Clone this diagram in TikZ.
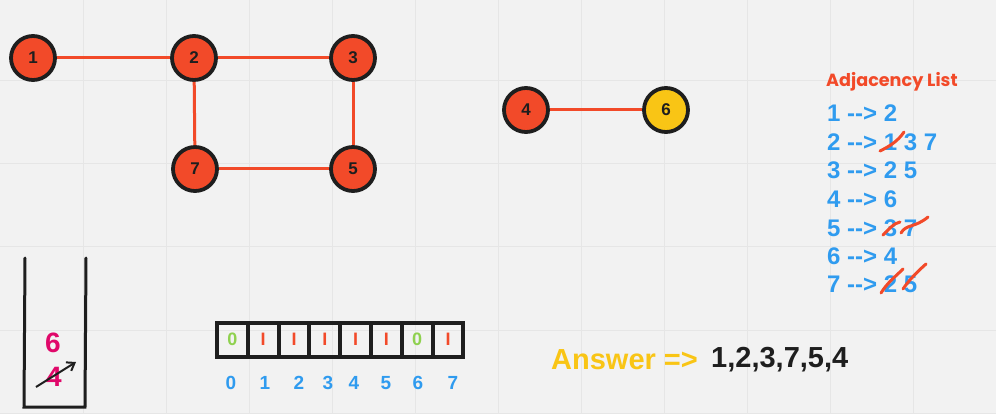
\documentclass[tikz,border=0pt]{standalone}
\usepackage{fontspec}
\setmainfont[Ligatures=NoCommon]{Liberation Sans}
\newfontfamily\titlefont{Poppins}
\usetikzlibrary{arrows.meta}
\definecolor{bg}{HTML}{F2F2F2}
\definecolor{gridc}{HTML}{E6E6E6}
\definecolor{nred}{HTML}{F24A29}
\definecolor{nyel}{HTML}{F9C515}
\definecolor{ink}{HTML}{1E1E1E}
\definecolor{lblue}{HTML}{2F9BEF}
\definecolor{lgreen}{HTML}{8FD14F}
\definecolor{mag}{HTML}{E0086A}
\tikzset{
  vert/.style={circle, draw=ink, line width=3.8pt, fill=nred, minimum size=44pt, inner sep=0pt, font=\fontsize{17}{17}\selectfont\bfseries, text=ink},
  edge/.style={draw=nred, line width=3pt},
  adj/.style={anchor=west, inner sep=0pt, text=lblue, font=\fontsize{24}{24}\selectfont\bfseries},
  strike/.style={draw=nred, line width=3pt, line cap=round},
  cell/.style={draw=ink, line width=4pt, minimum width=30.8pt, minimum height=34pt, inner sep=0pt, font=\fontsize{18}{18}\selectfont\bfseries},
  idx/.style={text=lblue, font=\fontsize{19}{19}\selectfont\bfseries, inner sep=0pt},
  stackline/.style={draw=ink, line width=3pt, line cap=round},
  anstext/.style={anchor=west, inner sep=0pt, font=\fontsize{29}{29}\selectfont\bfseries}
}
\begin{document}
\begin{tikzpicture}[x=1pt,y=-1pt]
\fill[bg] (0,0) rectangle (996,414);
\useasboundingbox (0,0) rectangle (996,414);
\foreach \gx in {83,166,...,913} \draw[gridc, line width=1pt] (\gx,0) -- (\gx,414);
\foreach \gy in {81,164,247,330,413} \draw[gridc, line width=1pt] (0,\gy) -- (996,\gy);

% graph
\node[vert] (n1) at (33,58) {1};
\node[vert] (n2) at (194,58) {2};
\node[vert] (n3) at (353,58) {3};
\node[vert] (n7) at (195,169) {7};
\node[vert] (n5) at (353,169) {5};
\node[vert] (n4) at (526,110) {4};
\node[vert, fill=nyel] (n6) at (666,110) {6};
\draw[edge] (n1) -- (n2);
\draw[edge] (n2) -- (n3);
\draw[edge] (n2) -- (n7);
\draw[edge] (n3) -- (n5);
\draw[edge] (n7) -- (n5);
\draw[edge] (n4) -- (n6);

% adjacency list
\node[anchor=west, inner sep=0pt, text=nred, font=\titlefont\fontsize{17.6}{17.6}\selectfont\bfseries] (title) at (826,82) {Adjacency List};
\node[adj] (a1) at (827,113.5) {1 -{}-{}> 2};
\node[adj] (a2) at (827,142) {2 -{}-{}> 1 3 7};
\node[adj] (a3) at (827,170.5) {3 -{}-{}> 2 5};
\node[adj] (a4) at (827,199.5) {4 -{}-{}> 6};
\node[adj] (a5) at (827,228) {5 -{}-{}> 3 7};
\node[adj] (a6) at (827,256) {6 -{}-{}> 4};
\node[adj] (a7) at (827,284) {7 -{}-{}> 2 5};
\draw[strike] (880,151) .. controls (890,146) and (898,141) .. (904,132);
\draw[strike] (883,235) .. controls (888,230) and (894,223) .. (900,222);
\draw[strike] (901,233) .. controls (906,224) and (915,228) .. (928,217);
\draw[strike] (881,293) .. controls (887,283) and (896,276) .. (903,269);
\draw[strike] (903,289) .. controls (909,280) and (918,271) .. (926,264);

% stack
\coordinate (s1) at (25,258);
\coordinate (s2) at (24,407);
\coordinate (s3) at (85,407);
\coordinate (s4) at (86,258);
\draw[stackline] (s1) -- (s2) -- (s3) -- (s4);
\node[text=mag, font=\fontsize{28}{28}\selectfont\bfseries, inner sep=0pt] (st6) at (53,343) {6};
\node[text=mag, font=\fontsize{28}{28}\selectfont\bfseries, inner sep=0pt] (st4) at (54,377) {4};
\coordinate (ar1) at (36,387);
\coordinate (ar2) at (76,362);
\draw[ink, line width=2pt, -{Straight Barb[length=7pt,width=10pt]}] (ar1) -- (ar2);

% visited array
\foreach \i/\v/\c in {0/0/lgreen,1/I/nred,2/I/nred,3/I/nred,4/I/nred,5/I/nred,6/0/lgreen,7/I/nred}{
  \node[cell, text=\c] (c\i) at (232.4+30.8*\i,339.5) {\v};
}
\foreach \i/\x in {0/231,1/265,2/299,3/328,4/354,5/386,6/418,7/453}{
  \node[idx] (ix\i) at (\x,383) {\i};
}

% answer
\node[anstext, text=nyel] (ans) at (551,360) {Answer =>};
\node[anstext, text=ink] (ansv) at (711,360) {1,2,3,7,5,4};
\end{tikzpicture}
\end{document}
